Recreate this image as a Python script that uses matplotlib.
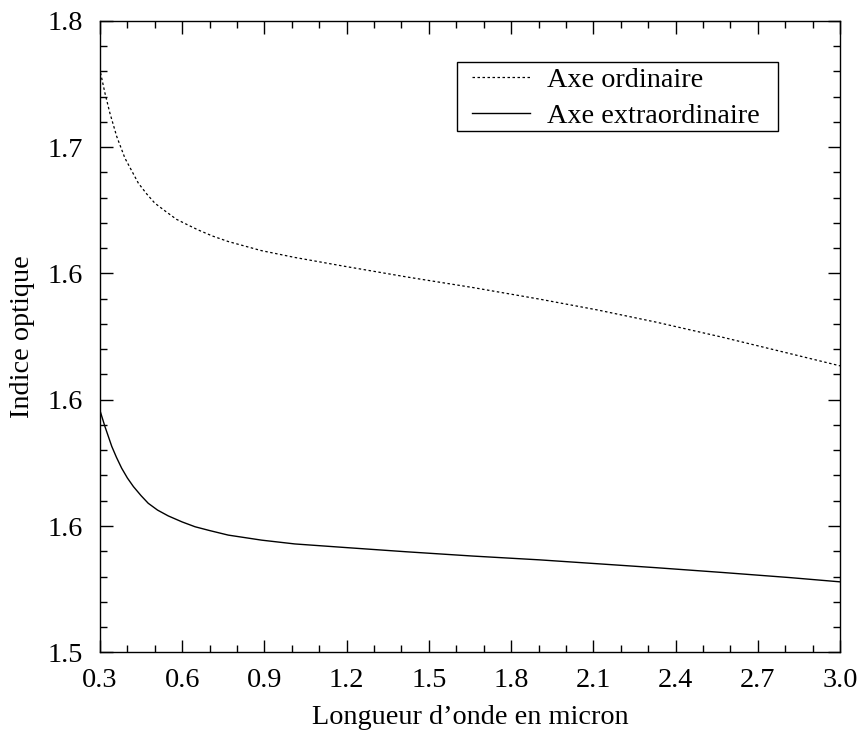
"""Indice optique vs longueur d'onde (axes ordinaire / extraordinaire)."""

import matplotlib
matplotlib.use("Agg")
import matplotlib.pyplot as plt
from matplotlib.patches import Rectangle
from matplotlib.ticker import FixedLocator, MultipleLocator

# ── Data ───────────────────────────────────────────────────────────────────
lam_ord = [0.302, 0.318, 0.336, 0.361, 0.391, 0.44, 0.47, 0.50, 0.54, 0.579,
           0.62, 0.658, 0.71, 0.768, 0.889, 1.011, 1.187, 1.418, 1.660,
           1.904, 2.116, 2.329, 2.572, 2.815, 3.0]
n_ord = [1.7294, 1.7214, 1.7135, 1.7042, 1.6956, 1.6857, 1.6815, 1.6778,
         1.6745, 1.6714, 1.6692, 1.6672, 1.6648, 1.6626, 1.6590, 1.6563,
         1.6529, 1.6486, 1.6444, 1.6398, 1.6355, 1.6307, 1.6247, 1.6183,
         1.6134]

lam_ext = [0.302, 0.318, 0.343, 0.36, 0.379, 0.40, 0.422, 0.45, 0.476, 0.51,
           0.549, 0.60, 0.647, 0.70, 0.768, 0.890, 1.011, 1.193, 1.418,
           1.661, 1.904, 2.124, 2.329, 2.572, 2.815, 3.0]
n_ext = [1.5950, 1.5894, 1.5815, 1.5772, 1.5729, 1.5690, 1.5656, 1.5620,
         1.5590, 1.5563, 1.5540, 1.5516, 1.5497, 1.5482, 1.5464, 1.5444,
         1.5429, 1.5415, 1.5398, 1.5381, 1.5366, 1.5350, 1.5335, 1.5316,
         1.5296, 1.5279]

x_ticks = [0.3, 0.6, 0.9, 1.2, 1.5, 1.8, 2.1, 2.4, 2.7, 3.0]
x_tick_labels = ["0.3", "0.6", "0.9", "1.2", "1.5", "1.8", "2.1", "2.4", "2.7", "3.0"]
y_ticks = [1.5, 1.55, 1.6, 1.65, 1.7, 1.75]
y_tick_labels = ["1.5", "1.6", "1.6", "1.6", "1.7", "1.8"]

# ── Style ──────────────────────────────────────────────────────────────────
plt.rcParams.update({
    "font.family": "serif",
    "font.serif": ["Liberation Serif", "DejaVu Serif"],
    "font.size": 20.3,
})

fig = plt.figure(figsize=(8.59, 7.30), dpi=100)
ax = fig.add_axes([0.1164, 0.1064, 0.8615, 0.8652])

ax.plot(lam_ord, n_ord, color="black", lw=0.9, linestyle=(0, (2, 2)),
        label="Axe ordinaire")
ax.plot(lam_ext, n_ext, color="black", lw=1.0, label="Axe extraordinaire")

ax.set_xlim(0.3, 3.0)
ax.set_ylim(1.5, 1.75)

ax.xaxis.set_major_locator(FixedLocator(x_ticks))
ax.set_xticklabels(x_tick_labels)
ax.xaxis.set_minor_locator(MultipleLocator(0.1))
ax.yaxis.set_major_locator(FixedLocator(y_ticks))
ax.set_yticklabels(y_tick_labels)
ax.yaxis.set_minor_locator(MultipleLocator(0.01))

ax.tick_params(which="both", direction="in", top=True, right=True, width=1.0)
ax.tick_params(which="major", length=9)
ax.tick_params(which="minor", length=5)
ax.tick_params(axis="x", which="major", pad=11)
ax.tick_params(axis="y", which="major", pad=12)
for s in ax.spines.values():
    s.set_linewidth(1.0)

ax.set_xlabel("Longueur d\u2019onde en micron", labelpad=9)
ax.set_ylabel("Indice optique", labelpad=9)

# legend: frameless entries + a separate box, like gnuplot's key
leg = ax.legend(loc="upper left", bbox_to_anchor=(0.5027, 0.9266),
                borderaxespad=0, borderpad=0, frameon=False,
                handlelength=2.06, handletextpad=0.6, labelspacing=0.37)
ax.add_patch(Rectangle((0.4824, 0.8254), 0.4338, 0.1092,
                       transform=ax.transAxes, fill=False,
                       edgecolor="black", lw=1.0, zorder=5))

fig.savefig("out.png", dpi=100)
